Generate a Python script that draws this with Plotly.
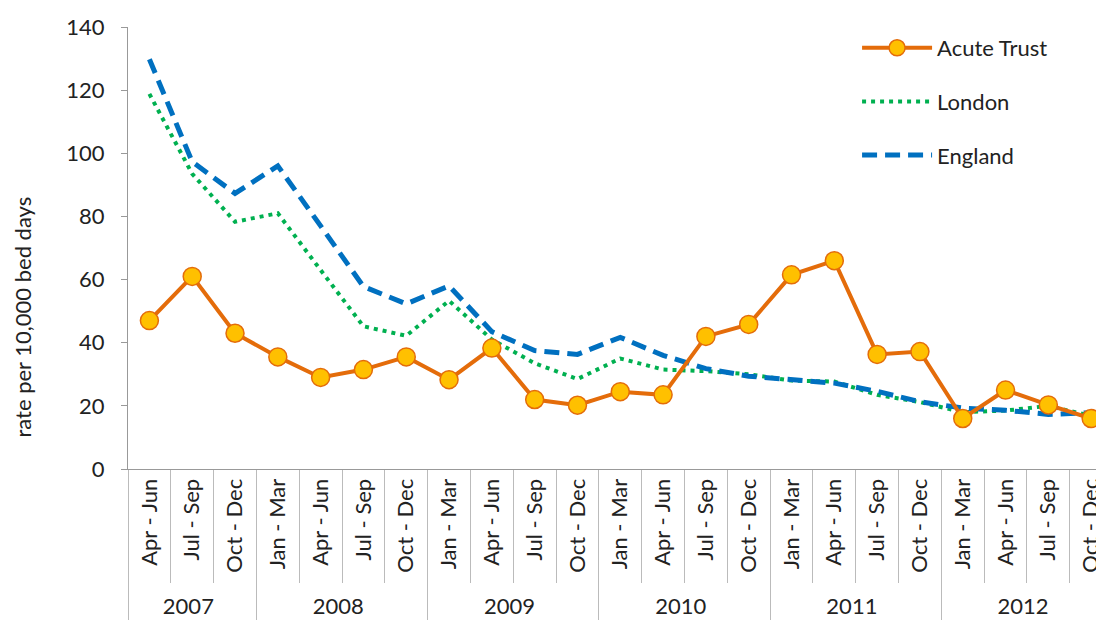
import plotly.graph_objects as go

# Quarterly rates per 10,000 bed days, Apr 2007 - Dec 2012
years = ['2007'] * 3 + ['2008'] * 4 + ['2009'] * 4 + ['2010'] * 4 + ['2011'] * 4 + ['2012'] * 4
# the multicategory axis orders the inner labels by first appearance over the
# whole axis, so 2007's quarters get an invisible zero-width suffix to keep
# Jan - Mar first in the later years
ZW = '\u200b'
quarters = ['Apr - Jun' + ZW, 'Jul - Sep' + ZW, 'Oct - Dec' + ZW] + ['Jan - Mar', 'Apr - Jun', 'Jul - Sep', 'Oct - Dec'] * 5

acute_trust = [47, 61, 43, 35.5, 29, 31.5, 35.5, 28.3, 38.3, 22, 20.2,
               24.5, 23.5, 42, 45.8, 61.5, 66, 36.3, 37.2, 16, 25, 20.3, 16]
london = [118.8, 93.5, 78.3, 81, 63, 45.2, 42.2, 53.3, 41, 33.5, 28.5,
          35, 31.5, 31, 30, 28, 27.7, 23.5, 21.2, 18, 18.5, 20, 16.8]
england = [129.8, 97.3, 87.3, 96, 77, 57.8, 52.3, 58, 43.5, 37.5, 36.3,
           41.7, 36, 31.8, 29.4, 28.2, 27.2, 24.6, 21.3, 19.3, 18.6, 17.3, 17.8]

FONT = 'Lato, "Open Sans", Arial, sans-serif'
x = [years, quarters]

fig = go.Figure()
fig.add_trace(go.Scatter(
    x=x, y=london, name='London', mode='lines',
    line=dict(color='#00B050', width=4, dash='4px,5px'),
    legendgroup='b', legendrank=2
))
fig.add_trace(go.Scatter(
    x=x, y=england, name='England', mode='lines',
    line=dict(color='#0070C0', width=5, dash='15px,8px'),
    legendgroup='c', legendrank=3
))
fig.add_trace(go.Scatter(
    x=x, y=acute_trust, name='Acute Trust', mode='lines+markers',
    line=dict(color='#E46C0A', width=4),
    marker=dict(size=18, color='#FFC000', line=dict(color='#E46C0A', width=1.5)),
    legendgroup='a', legendrank=1
))

# page body has an 8px margin, so the figure is 8px smaller than the window
fig.update_layout(
    width=1096, height=619,
    paper_bgcolor='white', plot_bgcolor='white',
    font=dict(family=FONT, size=20, color='#222'),
    margin=dict(l=120, r=0, t=19, b=158, autoexpand=False),
    showlegend=True,
    legend=dict(x=0.747, y=1.0, xanchor='left', yanchor='top',
                traceorder='grouped', tracegroupgap=22, itemwidth=70,
                font=dict(size=22, family=FONT, color='#222'),
                bgcolor='rgba(0,0,0,0)'),
    xaxis=dict(
        type='multicategory', range=[-0.5, 22.3], automargin=False,
        showline=True, linecolor='#999', linewidth=1,
        ticks='outside', ticklen=113, tickcolor='#bbb',
        tickangle=-90, showdividers=True, dividercolor='#bbb', dividerwidth=1,
        tickfont=dict(size=22, family=FONT, color='#222'),
        showgrid=False
    ),
    yaxis=dict(
        range=[0, 140], dtick=20, automargin=False,
        showline=True, linecolor='#999', linewidth=1,
        ticks='outside', ticklen=6, tickcolor='#999', showgrid=False,
        ticklabelstandoff=12, zeroline=False,
        tickfont=dict(size=22, family=FONT, color='#222')
    ),
    annotations=[dict(
        text='rate per 10,000 bed days', textangle=-90,
        xref='paper', yref='paper', x=-0.108, y=0.344,
        xanchor='center', yanchor='middle', showarrow=False,
        font=dict(size=22, family=FONT, color='#222')
    )]
)

fig.write_html('out.html')
